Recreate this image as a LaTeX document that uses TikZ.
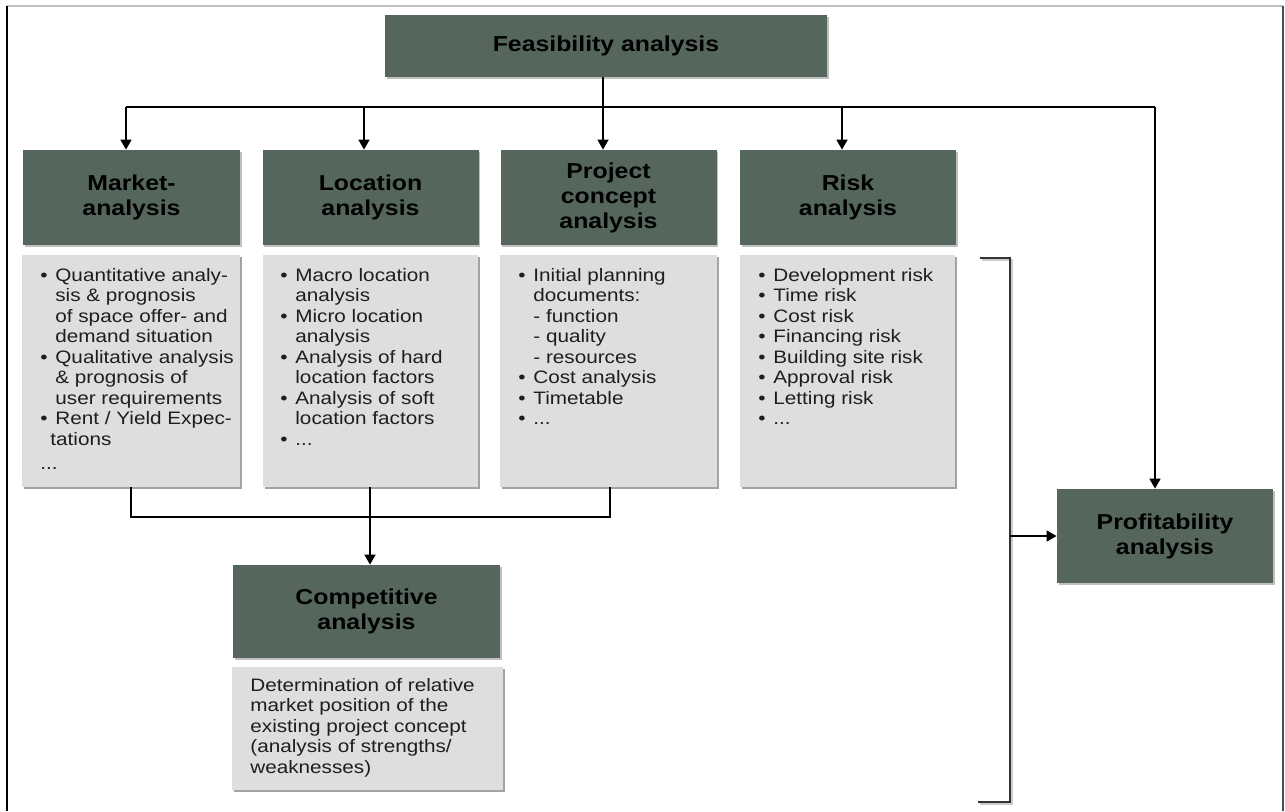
\documentclass[tikz,border=0pt]{standalone}
\usepackage{fontspec}
\setmainfont{Liberation Sans}[FakeStretch=1.15]
\usetikzlibrary{arrows.meta,shadows,calc}
\definecolor{hdrfill}{RGB}{85,103,93}
\definecolor{boxfill}{RGB}{222,222,222}
\definecolor{txtcol}{RGB}{30,30,30}
\newcommand{\mybul}{\makebox[7.5pt][l]{\textbullet}}
\newcommand{\myind}{\hspace*{7.5pt}}
\tikzset{
  hdr/.style={rectangle, fill=hdrfill, inner sep=0pt, align=center, text=black,
    font=\fontsize{10.8}{12.5}\selectfont\bfseries,
    drop shadow={shadow xshift=0.8pt, shadow yshift=-0.8pt, fill=black, opacity=0.25}},
  tbox/.style={rectangle, fill=boxfill, inner sep=0pt,
    drop shadow={shadow xshift=1.1pt, shadow yshift=-1.1pt, fill=black!60, opacity=0.6}},
  btext/.style={inner sep=0pt, align=left, anchor=north west, text=txtcol,
    font=\fontsize{9}{10.25}\selectfont},
  conn/.style={draw=black, line width=0.8pt},
  connarr/.style={conn, -{Triangle[width=5.5pt,length=5pt]}},
  brk/.style={draw=black!80, line width=0.9pt},
  brkshadow/.style={draw=black!20, line width=1.2pt}
}
\begin{document}
\begin{tikzpicture}[x=0.5pt,y=-0.5pt]
\useasboundingbox (0,0) rectangle (1285,811);
% frame
\coordinate (fTL) at (7,6);
\coordinate (fTR) at (1283,6);
\coordinate (fBL) at (7,811);
\coordinate (fBR) at (1283,811);
\draw[draw=black!25, line width=0.8pt] (fTL) -- (fTR);
\draw[draw=black, line width=0.8pt] (fTL) -- (fBL);
\draw[draw=black!70, line width=0.8pt] (fTR) -- (fBR);

% top box
\node[hdr, minimum width=221pt, minimum height=31pt] (feas) at (606,46) {Feasibility analysis};

% header boxes
\node[hdr, minimum width=108.5pt, minimum height=47.5pt] (mh) at (131.5,197.5) {Market-\\analysis};
\node[hdr, minimum width=108pt, minimum height=47.5pt] (lh) at (370.5,197.5) {Location\\analysis};
\node[hdr, minimum width=108pt, minimum height=47.5pt] (ph) at (608.5,197.5) {Project\\concept\\analysis};
\node[hdr, minimum width=108pt, minimum height=47.5pt] (rh) at (848,197.5) {Risk\\analysis};

% text boxes
\node[tbox, minimum width=109pt, minimum height=116pt] (mt) at (131,371) {};
\node[tbox, minimum width=107.5pt, minimum height=116pt] (lt) at (370.5,371) {};
\node[tbox, minimum width=108.5pt, minimum height=116pt] (pt) at (608.5,371) {};
\node[tbox, minimum width=107.5pt, minimum height=116pt] (rt) at (847.5,371) {};

\node[btext] (mtx) at (40,268) {\mybul Quantitative analy-\\
\myind sis \& prognosis\\
\myind of space offer- and\\
\myind demand situation\\
\mybul Qualitative analysis\\
\myind \& prognosis of\\
\myind user requirements\\
\mybul Rent / Yield Expec-\\
\hspace*{5pt}tations\\[2pt]
...};

\node[btext] (ltx) at (280,268) {\mybul Macro location\\
\myind analysis\\
\mybul Micro location\\
\myind analysis\\
\mybul Analysis of hard\\
\myind location factors\\
\mybul Analysis of soft\\
\myind location factors\\
\mybul ...};

\node[btext] (ptx) at (518,268) {\mybul Initial planning\\
\myind documents:\\
\myind - function\\
\myind - quality\\
\myind - resources\\
\mybul Cost analysis\\
\mybul Timetable\\
\mybul ...};

\node[btext] (rtx) at (758,268) {\mybul Development risk\\
\mybul Time risk\\
\mybul Cost risk\\
\mybul Financing risk\\
\mybul Building site risk\\
\mybul Approval risk\\
\mybul Letting risk\\
\mybul ...};

% competitive analysis
\node[hdr, minimum width=133.5pt, minimum height=46.5pt] (ch) at (366.5,611.5) {Competitive\\analysis};
\node[tbox, minimum width=135.5pt, minimum height=61.5pt] (ct) at (367.5,728.5) {};
\node[btext] (ctx) at (250,678) {Determination of relative\\
market position of the\\
existing project concept\\
(analysis of strengths/\\
weaknesses)};

% profitability
\node[hdr, minimum width=108pt, minimum height=47pt] (prof) at (1165,536) {Profitability\\analysis};

% bus from feasibility
\coordinate (bM) at (126,107);
\coordinate (bL) at (364,107);
\coordinate (bP) at (603,107);
\coordinate (bR) at (842,107);
\coordinate (bE) at (1155,107);
\draw[conn] (bM) -- (bE);
\draw[conn] (feas.south -| bP) -- (bP);
\draw[connarr] (bM) -- (bM |- mh.north);
\draw[connarr] (bL) -- (bL |- lh.north);
\draw[connarr] (bP) -- (bP |- ph.north);
\draw[connarr] (bR) -- (bR |- rh.north);
\draw[connarr] (bE) -- (bE |- prof.north);

% bottom connector to competitive analysis
\coordinate (cM) at (131,517);
\coordinate (cL) at (370,517);
\coordinate (cP) at (610,517);
\draw[conn] (mt.south -| cM) -- (cM) -- (cP) -- (pt.south -| cP);
\draw[connarr] (lt.south -| cL) -- (cL |- ch.north);

% bracket
\coordinate (brT) at (980,258);
\coordinate (brTR) at (1010,258);
\coordinate (brBR) at (1010,802);
\coordinate (brB) at (978,802);
\draw[brkshadow] ($(brT)+(2,2)$) -- ($(brTR)+(2,2)$) -- ($(brBR)+(2,2)$) -- ($(brB)+(2,2)$);
\draw[brk] (brT) -- (brTR) -- (brBR) -- (brB);
\draw[connarr] (brTR |- prof.west) -- (prof.west);
\end{tikzpicture}
\end{document}
